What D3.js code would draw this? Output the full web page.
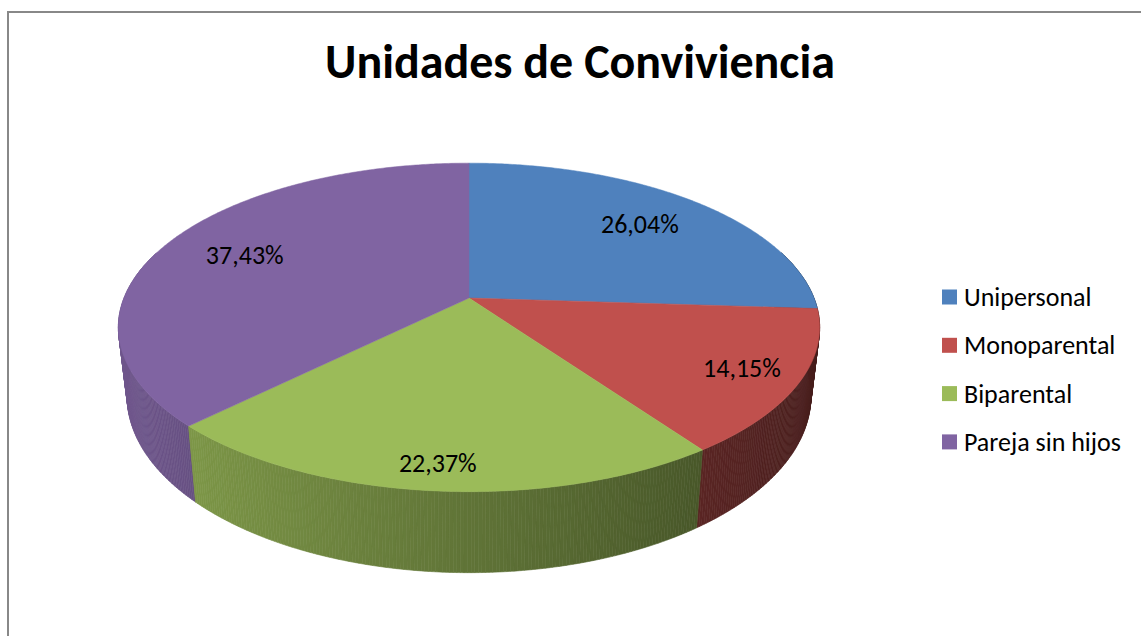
<!DOCTYPE html>
<html>
<head>
<meta charset="utf-8">
<script src="https://d3js.org/d3.v7.min.js"></script>
<style>
  body { margin: 0; background: #fff; }
  text { font-family: Calibri, Carlito, Lato, sans-serif; }
</style>
</head>
<body>
<div id="chart"></div>
<script>
var categories = ["Unipersonal", "Monoparental", "Biparental", "Pareja sin hijos"];
var values = [26.04, 14.15, 22.37, 37.43];
var labels = ["26,04%", "14,15%", "22,37%", "37,43%"];
var colors = ["#4f81bd", "#c0504d", "#9bbb59", "#8064a2"];
// how far out (fraction of radius) each label sits
var labelRadius = [0.74, 0.84, 0.88, 0.74];

var w = 1141,
    h = 636;

// pie geometry (perspective disk)
var cx = 469, cy = 298,
    A = 345, B = 159,
    c = 0.179,
    depth = 66.5,
    shrink = 0.975;

var svg = d3.select("#chart")
    .append("svg")
    .attr("width", w)
    .attr("height", h);

svg.append("rect")
    .attr("x", 8)
    .attr("y", 12)
    .attr("width", 1300)
    .attr("height", 800)
    .attr("fill", "none")
    .attr("stroke", "#888")
    .attr("stroke-width", 2);

svg.append("text")
    .attr("x", 580)
    .attr("y", 78)
    .attr("text-anchor", "middle")
    .style("font-size", "48px")
    .style("font-weight", "bold")
    .text("Unidades de Conviviencia");

function proj(phi, f) {
  var u = f * Math.sin(phi),
      v = -f * Math.cos(phi),
      s = 1 / (1 - c * v);
  return [cx + A * u * s, cy + B * v * s];
}

function projBottom(phi) {
  var p = proj(phi, 1),
      v = -Math.cos(phi);
  return [cx + (p[0] - cx) * shrink, p[1] + depth / (1 - c * v)];
}

var pie = d3.pie().sort(null).value(function(d) { return d; });
var arcs = pie(values);

// side wall pieces
var step = Math.PI / 360;
var sides = [];
arcs.forEach(function(a, i) {
  for (var t = a.startAngle; t < a.endAngle; t += step) {
    var t2 = Math.min(t + step, a.endAngle);
    var mid = (t + t2) / 2;
    var v = -Math.cos(mid);
    if (v < -0.3) continue;
    var k = 0.62 - 0.26 * Math.sin(mid);
    var base = d3.rgb(colors[i]);
    sides.push({
      v: v,
      pts: [proj(t, 1), proj(t2, 1), projBottom(t2), projBottom(t)],
      fill: d3.rgb(base.r * k, base.g * k, base.b * k).formatHex()
    });
  }
});
sides.sort(function(a, b) { return a.v - b.v; });

svg.append("g").selectAll("path")
    .data(sides)
    .enter().append("path")
    .attr("d", function(d) { return "M" + d.pts.join("L") + "Z"; })
    .attr("fill", function(d) { return d.fill; })
    .attr("stroke", function(d) { return d.fill; })
    .attr("stroke-width", 0.6);

// top faces
function topPath(a) {
  var pts = [[cx, cy]];
  var n = Math.max(2, Math.ceil((a.endAngle - a.startAngle) / step));
  for (var j = 0; j <= n; j++) {
    pts.push(proj(a.startAngle + (a.endAngle - a.startAngle) * j / n, 1));
  }
  return "M" + pts.join("L") + "Z";
}

svg.append("g").selectAll("path")
    .data(arcs)
    .enter().append("path")
    .attr("d", topPath)
    .attr("fill", function(d, i) { return colors[i]; })
    .attr("stroke", function(d, i) { return colors[i]; })
    .attr("stroke-width", 0.5);

svg.append("g").selectAll("text")
    .data(arcs)
    .enter().append("text")
    .attr("transform", function(d, i) {
      return "translate(" + proj((d.startAngle + d.endAngle) / 2, labelRadius[i]) + ")";
    })
    .attr("text-anchor", "middle")
    .attr("dy", "0.35em")
    .style("font-size", "26px")
    .text(function(d, i) { return labels[i]; });

// legend
var legend = svg.append("g")
    .attr("transform", "translate(942,297)");

var item = legend.selectAll("g")
    .data(categories)
    .enter().append("g")
    .attr("transform", function(d, i) { return "translate(0," + i * 48.3 + ")"; });

item.append("rect")
    .attr("x", 0)
    .attr("y", -7.5)
    .attr("width", 15)
    .attr("height", 15)
    .attr("fill", function(d, i) { return colors[i]; });

item.append("text")
    .attr("x", 22)
    .attr("dy", "0.35em")
    .style("font-size", "26px")
    .text(function(d) { return d; });
</script>
</body>
</html>
